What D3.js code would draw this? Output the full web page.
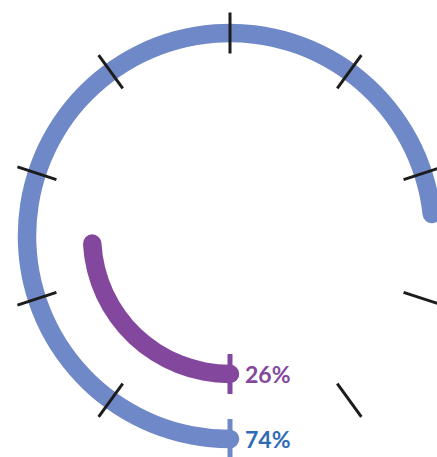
<!DOCTYPE html>
<html>
<head>
<meta charset="utf-8">
<script src="https://cdn.jsdelivr.net/npm/d3@7"></script>
<style>
  html, body { margin: 0; padding: 0; background: #ffffff; }
  svg { display: block; }
</style>
</head>
<body>
<svg id="chart" width="437" height="457"></svg>
<script>
// ---- data ----
const categories = ["Outer", "Inner"];
const values = [74, 26];
const valueLabels = ["74%", "26%"];
const tickValues = [0, 10, 20, 30, 40, 60, 70, 80, 90];

// ---- styles / layout ----
const ringColors = ["#6f88c7", "#84479e"];
const labelColors = ["#2f6bb6", "#84479e"];
const W = 437, H = 457;
const cx = 230, cy = 236;
const thickness = 18.5;

const svg = d3.select("#chart");
const g = svg.append("g").attr("transform", `translate(${cx},${cy})`);

const rScale = d3.scalePoint().domain(categories).range([203, 138]);
const angle = d3.scaleLinear().domain([0, 100]).range([0, 2 * Math.PI * 1.0098]);
const tickAngle = d3.scaleLinear().domain([0, 100]).range([0, 2 * Math.PI]);
const colorScale = d3.scaleOrdinal().domain(categories).range(ringColors);
const labelColor = d3.scaleOrdinal().domain(categories).range(labelColors);

const data = categories.map((c, i) => ({ cat: c, value: values[i], label: valueLabels[i] }));

const arc = d3.arc()
  .innerRadius(d => rScale(d.cat) - thickness / 2)
  .outerRadius(d => rScale(d.cat) + thickness / 2)
  .startAngle(d => Math.PI - (thickness / 2) / rScale(d.cat))
  .endAngle(d => Math.PI - (thickness / 2) / rScale(d.cat) + angle(d.value))
  .cornerRadius(thickness / 2);

g.selectAll("path.ring")
  .data(data)
  .join("path")
  .attr("class", "ring")
  .attr("d", arc)
  .attr("fill", d => colorScale(d.cat));

const pt = (a, r) => [r * Math.sin(a), -r * Math.cos(a)];
const outerR = rScale(categories[0]);

// black ticks on outer ring
g.selectAll("line.tick")
  .data(tickValues)
  .join("line")
  .attr("class", "tick")
  .attr("x1", d => pt(tickAngle(d), outerR - 20.5)[0])
  .attr("y1", d => pt(tickAngle(d), outerR - 20.5)[1])
  .attr("x2", d => pt(tickAngle(d), outerR + 20.5)[0])
  .attr("y2", d => pt(tickAngle(d), outerR + 20.5)[1])
  .attr("stroke", "#1c1c1c")
  .attr("stroke-width", 3);

// coloured start ticks
g.selectAll("line.start")
  .data(data)
  .join("line")
  .attr("class", "start")
  .attr("x1", d => pt(tickAngle(50), rScale(d.cat) - 20)[0])
  .attr("y1", d => pt(tickAngle(50), rScale(d.cat) - 20)[1])
  .attr("x2", d => pt(tickAngle(50), rScale(d.cat) + 20)[0])
  .attr("y2", d => pt(tickAngle(50), rScale(d.cat) + 20)[1])
  .attr("stroke", d => colorScale(d.cat))
  .attr("stroke-width", 5);

// labels
g.selectAll("text.lbl")
  .data(data)
  .join("text")
  .attr("class", "lbl")
  .attr("x", 15)
  .attr("y", d => rScale(d.cat) + 8.5)
  .attr("fill", d => labelColor(d.cat))
  .attr("font-family", "Lato, 'Open Sans', sans-serif")
  .attr("font-weight", 700)
  .attr("font-size", 23)
  .text(d => d.label);
</script>
</body>
</html>
